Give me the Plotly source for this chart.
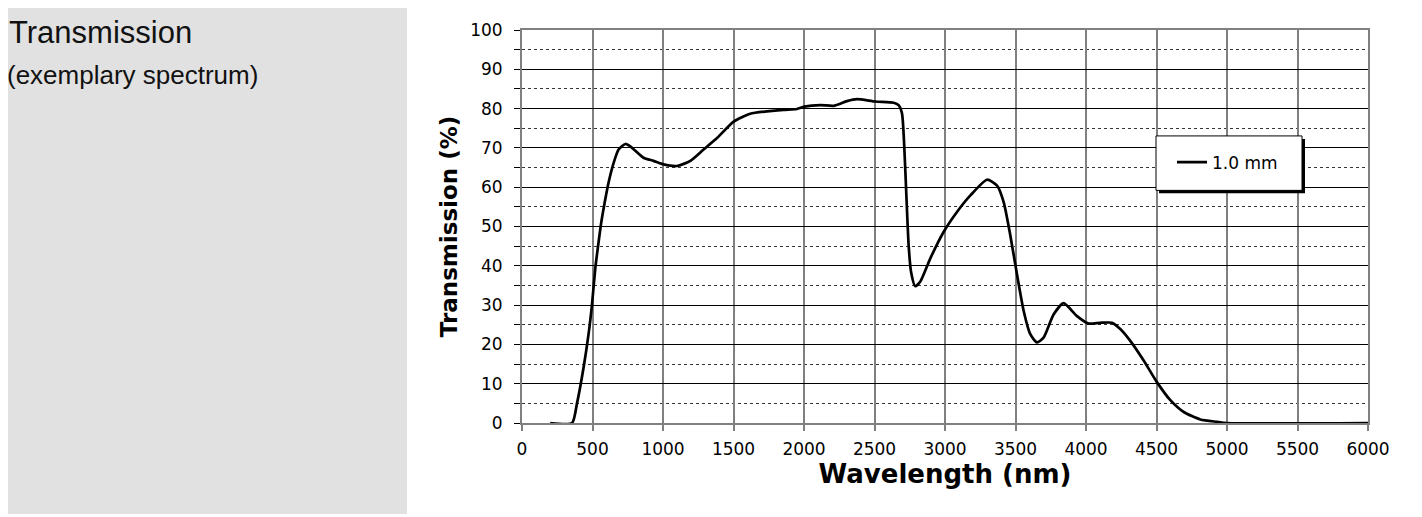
import plotly.graph_objects as go

# ---- data ----
wavelength_nm = [200, 355, 390, 437, 472, 496, 520, 543, 562, 591, 614, 650, 685, 733, 768,
                 862, 933, 1004, 1099, 1194, 1288, 1383, 1501, 1619, 1737, 1855, 1950, 2002,
                 2116, 2210, 2305, 2376, 2506, 2636, 2671, 2695, 2711, 2726, 2742, 2759, 2789,
                 2825, 2896, 2990, 3085, 3180, 3298, 3369, 3416, 3463, 3511, 3558, 3605, 3652,
                 3699, 3770, 3841, 3936, 4019, 4101, 4184, 4243, 4314, 4409, 4503, 4598, 4693,
                 4811, 4929, 5000, 6000]
transmission_pct = [0, 0, 5, 14.2, 22.6, 30, 39.4, 46, 51, 57, 61.2, 66.2, 69.6, 71, 70.4,
                    67.5, 66.7, 65.8, 65.4, 66.7, 69.6, 72.5, 76.7, 78.7, 79.3, 79.7, 79.9, 80.5,
                    80.9, 80.7, 81.9, 82.4, 81.8, 81.5, 80.9, 78.8, 70.4, 57.9, 45.3, 38.5, 34.8,
                    36, 41.9, 48.6, 53.7, 57.9, 61.9, 60.4, 56.2, 47.8, 37.7, 28.5, 22.6, 20.5,
                    21.7, 27.6, 30.5, 27.2, 25.3, 25.5, 25.5, 23.9, 20.9, 15.9, 10.4, 5.8, 2.8,
                    0.9, 0.3, 0, 0]
series_name = "1.0 mm"
panel_title = "Transmission"
panel_subtitle = "(exemplary spectrum)"
x_title = "Wavelength (nm)"
y_title = "Transmission (%)"

# ---- layout geometry (pixels); page has an 8px body margin ----
OFF = 8
W, H = 1422 - OFF, 517 - OFF
PLOT_L, PLOT_R, PLOT_T, PLOT_B = 522, 1368, 26, 423   # screen coordinates
L = PLOT_L - OFF
T = PLOT_T - OFF
PW = PLOT_R - PLOT_L
PH = PLOT_B - PLOT_T
R = W - L - PW
B = H - T - PH


def px_x(p):
    return (p - PLOT_L) / PW


def px_y(p):
    return (PLOT_B - p) / PH


fig = go.Figure()
fig.add_trace(go.Scatter(x=wavelength_nm, y=transmission_pct, mode="lines",
                         name=series_name,
                         line=dict(color="black", width=2.7, shape="spline", smoothing=0.6)))

tick_font = dict(family="DejaVu Sans", size=17, color="black")

fig.update_layout(
    width=W, height=H,
    margin=dict(l=L, r=R, t=T, b=B, pad=0),
    paper_bgcolor="white", plot_bgcolor="white",
    showlegend=True,
    legend=dict(x=px_x(1172), y=px_y(160), xanchor="left", yanchor="middle",
                bgcolor="rgba(0,0,0,0)", borderwidth=0, itemwidth=30,
                font=dict(family="DejaVu Sans", size=17, color="black")),
    xaxis=dict(range=[0, 6000], dtick=500, tick0=0,
               showgrid=True, gridcolor="#808080", gridwidth=2,
               showline=True, linecolor="#808080", linewidth=2, mirror=True,
               ticks="outside", ticklen=6, tickcolor="#808080", tickwidth=2,
               zeroline=False, tickfont=tick_font, ticklabelstandoff=4,
               title=dict(text="<b>" + x_title + "</b>", standoff=5,
                          font=dict(family="DejaVu Sans", size=26, color="black"))),
    yaxis=dict(range=[0, 100], dtick=10, tick0=0,
               showgrid=True, gridcolor="black", gridwidth=1,
               showline=True, linecolor="#808080", linewidth=2, mirror=True,
               ticks="outside", ticklen=6, tickcolor="black", tickwidth=1,
               zeroline=False, tickfont=tick_font, ticklabelstandoff=8,
               minor=dict(dtick=5, showgrid=True, gridcolor="#333333", griddash="3px,3px",
                          gridwidth=1, ticks="outside", ticklen=6, tickcolor="black"),
               title=dict(text="<b>" + y_title + "</b>", standoff=6,
                          font=dict(family="DejaVu Sans", size=23, color="black"))),
    shapes=[
        # grey side panel
        dict(type="rect", xref="paper", yref="paper", layer="below",
             x0=px_x(0), x1=px_x(407), y0=px_y(515), y1=px_y(0),
             fillcolor="#e1e1e1", line=dict(width=0)),
        # legend shadow
        dict(type="rect", xref="paper", yref="paper", layer="above",
             x0=px_x(1159), x1=px_x(1305), y0=px_y(191), y1=px_y(136),
             fillcolor="black", line=dict(width=0)),
        # legend box
        dict(type="rect", xref="paper", yref="paper", layer="above",
             x0=px_x(1156), x1=px_x(1302), y0=px_y(188), y1=px_y(133),
             fillcolor="white", line=dict(color="black", width=1)),
    ],
    annotations=[
        dict(text=panel_title, xref="paper", yref="paper", x=px_x(7), y=px_y(29),
             xanchor="left", yanchor="middle", showarrow=False,
             font=dict(family="Liberation Sans", size=31, color="#111111")),
        dict(text=panel_subtitle, xref="paper", yref="paper", x=px_x(5), y=px_y(71),
             xanchor="left", yanchor="middle", showarrow=False,
             font=dict(family="Liberation Sans", size=26, color="#111111")),
    ],
)

fig.write_html("out.html")
